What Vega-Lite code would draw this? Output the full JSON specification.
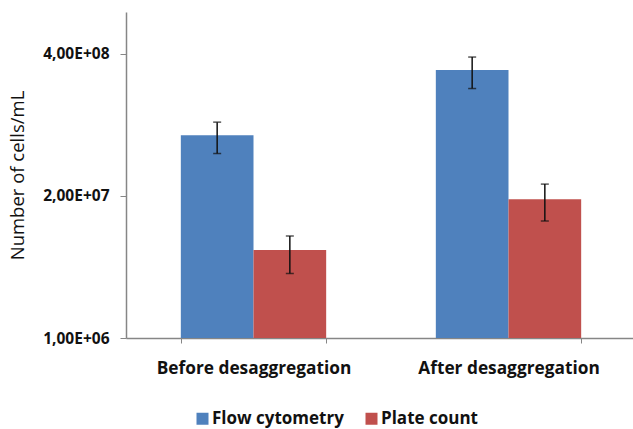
{
  "$schema": "https://vega.github.io/schema/vega-lite/v6.json",
  "width": 510,
  "height": 326,
  "autosize": {"type": "none"},
  "padding": {"left": 126, "top": 12, "right": 0, "bottom": 91},
  "background": "white",
  "config": {
    "view": {"stroke": null},
    "font": "Open Sans"
  },
  "data": {
    "values": [
      {"group": "Before desaggregation", "series": "Flow cytometry", "value": 72000000, "lo": 49000000, "hi": 95000000},
      {"group": "Before desaggregation", "series": "Plate count", "value": 6400000, "lo": 3900000, "hi": 8600000},
      {"group": "After desaggregation", "series": "Flow cytometry", "value": 285000000, "lo": 193000000, "hi": 375000000},
      {"group": "After desaggregation", "series": "Plate count", "value": 18700000, "lo": 11800000, "hi": 25700000}
    ]
  },
  "encoding": {
    "x": {
      "field": "group",
      "type": "nominal",
      "sort": ["Before desaggregation", "After desaggregation"],
      "scale": {"paddingInner": 0.43, "paddingOuter": 0.215},
      "axis": {
        "title": null,
        "labelAngle": 0,
        "labelLimit": 0,
        "labelFont": "Open Sans",
        "labelFontWeight": "bold",
        "labelFontSize": 17.3,
        "labelColor": "#111111",
        "labelPadding": 16,
        "tickBand": "extent",
        "tickSize": 5,
        "tickColor": "#868686",
        "domainColor": "#868686",
        "domainWidth": 1.5
      }
    },
    "xOffset": {"field": "series", "type": "nominal", "sort": ["Flow cytometry", "Plate count"], "scale": {"paddingInner": 0, "paddingOuter": 0}}
  },
  "layer": [
    {
      "mark": {"type": "bar"},
      "encoding": {
        "y": {
          "field": "value",
          "type": "quantitative",
          "scale": {"type": "log", "domain": [1000000, 970000000], "nice": false},
          "axis": {
            "title": "Number of cells/mL",
            "titleFont": "Open Sans",
            "titleFontWeight": "normal",
            "titleFontSize": 18.5,
            "titleColor": "#111111",
            "titlePadding": 15,
            "values": [1000000, 20000000, 400000000],
            "labelExpr": "replace(format(datum.value / pow(10, floor(log(datum.value) / LN10 + 1e-9)), '.2f'), '.', ',') + 'E+' + (floor(log(datum.value) / LN10 + 1e-9) < 10 ? '0' : '') + floor(log(datum.value) / LN10 + 1e-9)",
            "labelFont": "Open Sans",
            "labelFontWeight": "bold",
            "labelFontSize": 15.5,
            "labelColor": "#111111",
            "labelPadding": 11,
            "tickSize": 6,
            "tickColor": "#868686",
            "domainColor": "#868686",
            "domainWidth": 1.5,
            "grid": false
          }
        },
        "y2": {"datum": 1000000},
        "color": {
          "field": "series",
          "type": "nominal",
          "sort": ["Flow cytometry", "Plate count"],
          "scale": {"range": ["#4F81BD", "#C0504D"]},
          "legend": {
            "title": null,
            "orient": "none",
            "direction": "horizontal",
            "legendX": 68,
            "legendY": 398,
            "padding": 0,
            "symbolType": "square",
            "symbolSize": 144,
            "symbolStrokeWidth": 0,
            "labelFont": "Open Sans",
            "labelFontWeight": "bold",
            "labelFontSize": 17,
            "labelColor": "#111111",
            "labelOffset": 1,
            "columnPadding": 19
          }
        }
      }
    },
    {
      "mark": {"type": "rule", "color": "#111111", "strokeWidth": 1.5},
      "encoding": {
        "y": {"field": "lo", "type": "quantitative"},
        "y2": {"field": "hi"}
      }
    },
    {
      "mark": {"type": "tick", "color": "#111111", "thickness": 1.5, "size": 8},
      "encoding": {"y": {"field": "lo", "type": "quantitative"}}
    },
    {
      "mark": {"type": "tick", "color": "#111111", "thickness": 1.5, "size": 8},
      "encoding": {"y": {"field": "hi", "type": "quantitative"}}
    }
  ]
}
